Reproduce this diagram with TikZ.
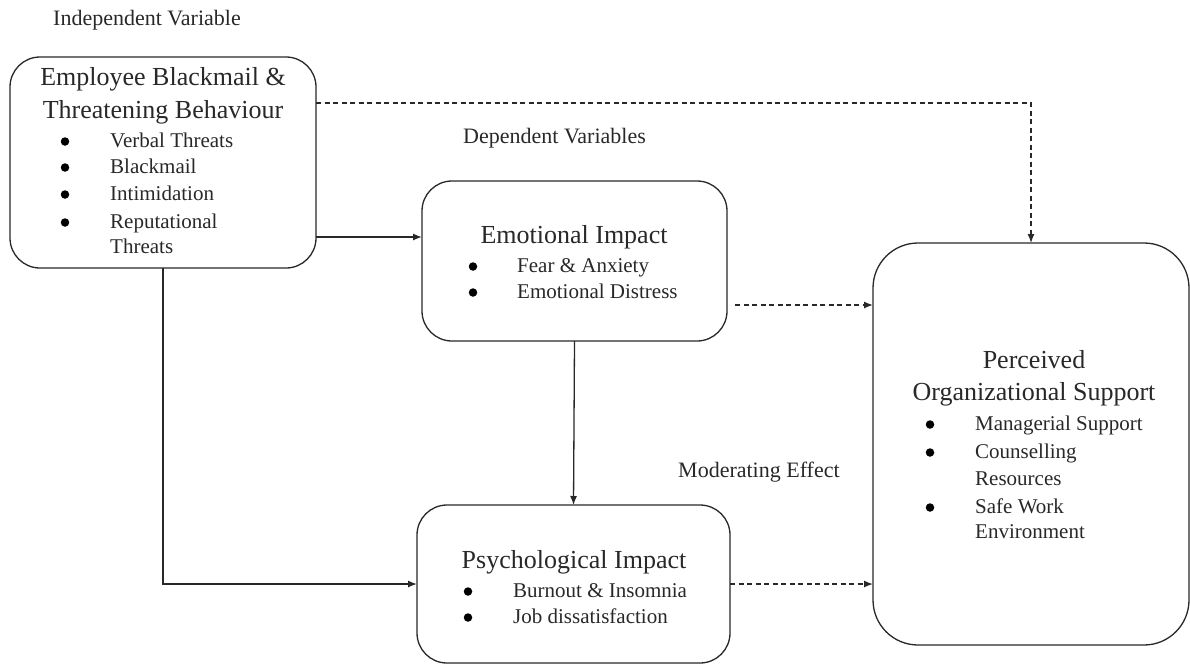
\documentclass[tikz,border=0pt]{standalone}
\usepackage{fontspec}
\setmainfont{Liberation Serif}
\usetikzlibrary{arrows.meta,calc}
\definecolor{ink}{RGB}{40,40,40}
\tikzset{
  box/.style={draw=ink, line width=1.3pt, inner sep=0pt, outer sep=0pt},
  ttl/.style={font=\fontsize{26}{31}\selectfont, anchor=base, inner sep=0pt, text=ink},
  itm/.style={font=\fontsize{21}{26}\selectfont, anchor=base west, inner sep=0pt, text=ink},
  bul/.style={circle, fill=black, draw=none, minimum size=8.5pt, inner sep=0pt, yshift=5.5pt},
  lbl/.style={font=\fontsize{22}{26}\selectfont, anchor=base west, inner sep=0pt, text=ink},
  conn/.style={draw=ink, line width=1.3pt, -{Latex[length=9pt,width=7pt]}},
  dconn/.style={conn, dash pattern=on 5pt off 3.5pt},
}
\begin{document}
\begin{tikzpicture}[x=1pt,y=-1pt]
\useasboundingbox (0,0) rectangle (1190,664);
% boxes
\node[box, rounded corners=30pt, minimum width=306pt, minimum height=211pt] (A) at (163,162.5) {};
\node[box, rounded corners=30pt, minimum width=305pt, minimum height=160pt] (B) at (574.5,261) {};
\node[box, rounded corners=30pt, minimum width=313pt, minimum height=158pt] (C) at (573.5,584) {};
\node[box, rounded corners=45pt, minimum width=316pt, minimum height=402pt] (D) at (1031,444) {};
% labels
\node[lbl] (lI) at (53,25) {Independent Variable};
\node[lbl] (lD) at (463,143) {Dependent Variables};
\node[lbl] (lM) at (678,477) {Moderating Effect};
% box A text
\node[ttl] (A1) at (163,85) {Employee Blackmail \&};
\node[ttl] (A2) at (163,118) {Threatening Behaviour};
\node[bul] (Ab1) at (65,147) {}; \node[itm] (At1) at (110,147) {Verbal Threats};
\node[bul] (Ab2) at (65,173) {}; \node[itm] (At2) at (110,173) {Blackmail};
\node[bul] (Ab3) at (65,200) {}; \node[itm] (At3) at (110,200) {Intimidation};
\node[bul] (Ab4) at (65,228) {}; \node[itm] (At4) at (110,228) {Reputational};
\node[itm] (At5) at (110,253) {Threats};
% box B text
\node[ttl] (B1) at (574,243) {Emotional Impact};
\node[bul] (Bb1) at (473,272) {}; \node[itm] (Bt1) at (517,272) {Fear \& Anxiety};
\node[bul] (Bb2) at (473,298) {}; \node[itm] (Bt2) at (517,298) {Emotional Distress};
% box C text
\node[ttl] (C1) at (574,568) {Psychological Impact};
\node[bul] (Cb1) at (468,597) {}; \node[itm] (Ct1) at (513,597) {Burnout \& Insomnia};
\node[bul] (Cb2) at (468,623) {}; \node[itm] (Ct2) at (513,623) {Job dissatisfaction};
% box D text
\node[ttl] (D1) at (1034,368) {Perceived};
\node[ttl] (D2) at (1034,400) {Organizational Support};
\node[bul] (Db1) at (930,430) {}; \node[itm] (Dt1) at (975,430) {Managerial Support};
\node[bul] (Db2) at (930,458) {}; \node[itm] (Dt2) at (975,458) {Counselling};
\node[itm] (Dt3) at (975,485) {Resources};
\node[bul] (Db3) at (930,513) {}; \node[itm] (Dt4) at (975,513) {Safe Work};
\node[itm] (Dt5) at (975,538) {Environment};
% helper coordinates
\coordinate (yAB) at (0,237);
\coordinate (yAD) at (0,103);
\coordinate (yBD) at (0,305);
\coordinate (sB) at ($(B.east |- yBD)+(8,0)$);
% connectors
\draw[conn] (A.east |- yAB) -- (B.west |- yAB);
\draw[conn] (A.south) |- (C.west);
\draw[conn] (B.south) -- (C.north);
\draw[dconn] (A.east |- yAD) -| (D.north);
\draw[dconn] (sB) -- (D.west |- yBD);
\draw[dconn] (C.east) -- (D.west |- C.east);
\end{tikzpicture}
\end{document}
